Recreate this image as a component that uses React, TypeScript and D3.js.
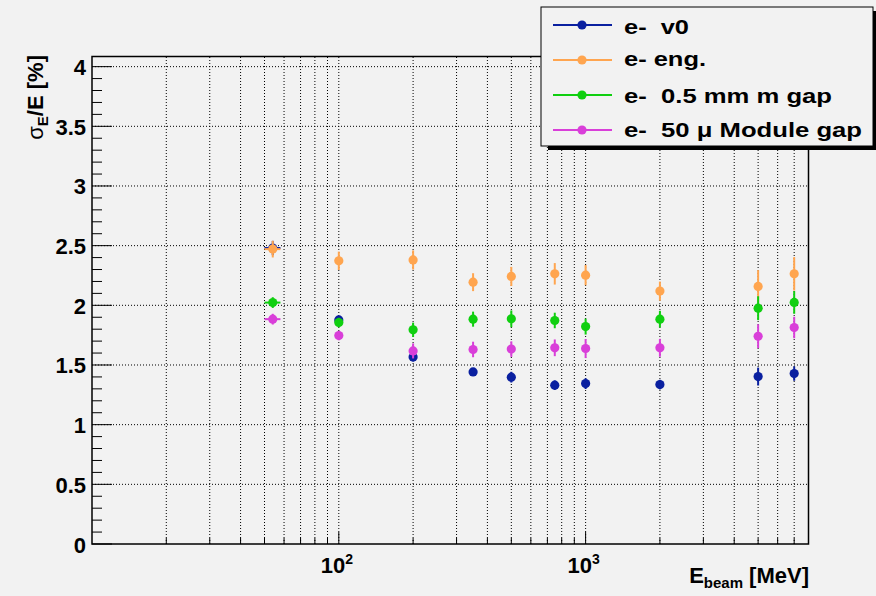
import React from "react";
import * as d3 from "d3";

const energies = [54, 100, 200, 350, 500, 750, 1000, 2000, 5000, 7000];
const energyErr = [4, 0, 0, 0, 0, 0, 0, 0, 0, 0];

const v0 = [2.48, 1.878, 1.566, 1.442, 1.398, 1.331, 1.344, 1.336, 1.403, 1.428];
const v0Err = [0.06, 0.03, 0.035, 0.03, 0.045, 0.04, 0.045, 0.04, 0.075, 0.06];
const eng = [2.471, 2.373, 2.38, 2.194, 2.242, 2.264, 2.253, 2.119, 2.158, 2.264];
const engErr = [0.07, 0.077, 0.08, 0.075, 0.08, 0.09, 0.085, 0.08, 0.137, 0.14];
const gap05 = [2.023, 1.856, 1.795, 1.884, 1.887, 1.873, 1.822, 1.884, 1.976, 2.024];
const gap05Err = [0.045, 0.04, 0.06, 0.063, 0.07, 0.065, 0.067, 0.07, 0.1, 0.095];
const gap50 = [1.884, 1.747, 1.618, 1.63, 1.633, 1.644, 1.638, 1.644, 1.741, 1.814];
const gap50Err = [0.045, 0.04, 0.063, 0.065, 0.065, 0.07, 0.08, 0.075, 0.1, 0.09];

const seriesNames = ["e-  v0", "e- eng.", "e-  0.5 mm m gap", "e-  50 \u03bc Module gap"];
const seriesColors = ["#0a20a0", "#ffa54f", "#10cf10", "#d93fd9"];
const seriesValues = [v0, eng, gap05, gap50];
const seriesErrors = [v0Err, engErr, gap05Err, gap50Err];

const yTicks = [0, 0.5, 1, 1.5, 2, 2.5, 3, 3.5, 4];
const xDecades = [100, 1000];
const xDecadeLabels = ["2", "3"];

const W = 876, H = 596;
const L = 92, R = 808.5, T = 56.5, B = 544;
const FONT = "'Liberation Sans', Arial, Helvetica, sans-serif";
const legendWidths = [65, 82, 208, 238];
const legendRows = [25, 60, 95, 130];
const legendBaselines = [34, 66, 103, 137];

export default function App() {
  const x = d3.scaleLog().domain([10, 8000]).range([L, R]);
  const y = d3.scaleLinear().domain([0, 4.085]).range([B, T]);

  const minorX: number[] = [];
  for (let dec = 10; dec <= 1000; dec *= 10) {
    for (let k = 1; k <= 9; k++) {
      const v = dec * k;
      if (v > 10 && v < 8000) minorX.push(v);
    }
  }
  const minorY: number[] = [];
  for (let i = 0; i <= 40; i++) {
    const v = i / 10;
    if (i % 5 !== 0) minorY.push(v);
  }

  return (
    <div style={{ position: "absolute", left: 0, top: 0 }}>
      <svg width={W} height={H} style={{ display: "block" }}>
        <rect x={0} y={0} width={W} height={H} fill="#f2f2f2" />
        {/* grid */}
        {minorX.map((v) => (
          <line key={"gx" + v} x1={x(v)} x2={x(v)} y1={B} y2={T} stroke="#000" strokeWidth={1} strokeDasharray="1,2" />
        ))}
        {yTicks.filter((v) => v > 0).map((v) => (
          <line key={"gy" + v} x1={L} x2={R} y1={y(v)} y2={y(v)} stroke="#000" strokeWidth={1} strokeDasharray="1,2" />
        ))}
        {/* y ticks */}
        {yTicks.map((v) => (
          <line key={"ty" + v} x1={L} x2={L + 20} y1={y(v)} y2={y(v)} stroke="#000" strokeWidth={1} />
        ))}
        {minorY.map((v) => (
          <line key={"tym" + v} x1={L} x2={L + 10} y1={y(v)} y2={y(v)} stroke="#000" strokeWidth={1} />
        ))}
        {/* x ticks */}
        {minorX.map((v) => (
          <line key={"tx" + v} x1={x(v)} x2={x(v)} y1={B} y2={xDecades.includes(v) ? B - 12 : B - 6} stroke="#000" strokeWidth={1} />
        ))}
        {/* frame */}
        <rect x={L} y={T} width={R - L} height={B - T} fill="none" stroke="#000" strokeWidth={1.5} />
        {/* y tick labels */}
        {yTicks.map((v) => (
          <text key={"yl" + v} x={86} y={y(v) + 8.5} textAnchor="end" fontFamily={FONT} fontWeight="bold" fontSize={22} fill="#000">
            {d3.format("~g")(v)}
          </text>
        ))}
        {/* x tick labels */}
        {xDecades.map((v, i) => (
          <text key={"xl" + v} x={x(v) - 2} y={573} textAnchor="middle" fontFamily={FONT} fontWeight="bold" fontSize={22} fill="#000">
            10<tspan fontSize={14} dy={-9}>{xDecadeLabels[i]}</tspan>
          </text>
        ))}
        {/* axis titles */}
        <text x={809} y={583} textAnchor="end" fontFamily={FONT} fontWeight="bold" fontSize={22} fill="#000">
          E<tspan fontSize={15} dy={5}>beam</tspan>
          <tspan dy={-5}> [MeV]</tspan>
        </text>
        <text transform="translate(43,55) rotate(-90)" textAnchor="end" fontFamily={FONT} fontWeight="bold" fontSize={22} fill="#000">
          <tspan fontWeight="normal">σ</tspan>
          <tspan fontSize={15} dy={5}>E</tspan>
          <tspan dy={-5}>/E [%]</tspan>
        </text>
        {/* data */}
        {seriesValues.map((vals, si) => (
          <g key={"s" + si}>
            {vals.map((v, i) => {
              const e = seriesErrors[si][i];
              const cx = x(energies[i]);
              const cy = y(v);
              const xe = energyErr[i];
              return (
                <g key={i}>
                  <line x1={cx} x2={cx} y1={y(v - e)} y2={y(v + e)} stroke={seriesColors[si]} strokeWidth={2} />
                  {xe > 0 && (
                    <line x1={x(energies[i] - xe)} x2={x(energies[i] + xe)} y1={cy} y2={cy} stroke={seriesColors[si]} strokeWidth={2} />
                  )}
                  <circle cx={cx} cy={cy} r={4.6} fill={seriesColors[si]} />
                </g>
              );
            })}
          </g>
        ))}
        {/* legend */}
        <rect x={548} y={11} width={330} height={139} fill="#000" />
        <rect x={541} y={7} width={332} height={139} fill="#f2f2f2" stroke="#000" strokeWidth={1} />
        {seriesNames.map((name, i) => (
          <g key={"lg" + i}>
            <line x1={553} x2={612} y1={legendRows[i]} y2={legendRows[i]} stroke={seriesColors[i]} strokeWidth={2} />
            <circle cx={582} cy={legendRows[i]} r={4.6} fill={seriesColors[i]} />
            <text
              x={624}
              y={legendBaselines[i]}
              fontFamily={FONT}
              fontWeight="bold"
              fontSize={21}
              fill="#000"
              textLength={legendWidths[i]}
              lengthAdjust="spacingAndGlyphs"
              style={{ whiteSpace: "pre" }}
            >
              {name}
            </text>
          </g>
        ))}
      </svg>
    </div>
  );
}
